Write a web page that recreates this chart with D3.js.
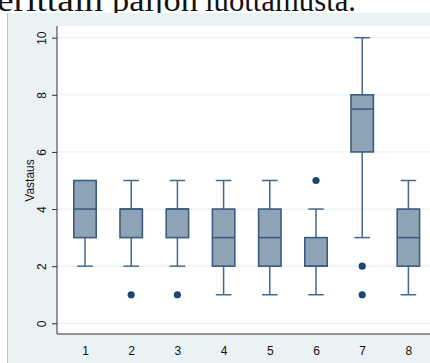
<!DOCTYPE html>
<html>
<head>
<meta charset="utf-8">
<script src="https://cdn.jsdelivr.net/npm/d3@7"></script>
<style>
  html, body { margin: 0; padding: 0; background: #ffffff; }
  svg { display: block; }
</style>
</head>
<body>
<svg id="chart" width="430" height="363"></svg>
<script>
// Box-plot summaries for each question (1–8)
const categories = ["1", "2", "3", "4", "5", "6", "7", "8"];
const lowerWhisker = [2, 2, 2, 1, 1, 1, 3, 1];
const q1 =           [3, 3, 3, 2, 2, 2, 6, 2];
const median =       [4, 4, 4, 3, 3, 2, 7.5, 3];
const q3 =           [5, 4, 4, 4, 4, 3, 8, 4];
const upperWhisker = [5, 5, 5, 5, 5, 4, 10, 5];
const outliers =     [[], [1], [1], [], [], [5], [2, 1], []];
const yTicks = [0, 2, 4, 6, 8, 10];
const yTitle = "Vastaus";
const headingWords = ["erittäin", "paljon", "luottamusta."];

const svg = d3.select("#chart");
const W = 430, H = 363;

// Heading text running off the top of the image
const headX = [-3, 112, 205];
const headLen = [106, 86, 151];
const head = svg.append("text")
  .attr("y", 11)
  .attr("font-family", "'Liberation Serif', 'DejaVu Serif', serif")
  .attr("font-size", 31)
  .attr("fill", "#111");
headingWords.forEach((w, i) => {
  head.append("tspan").attr("x", headX[i]).text(w)
    .attr("textLength", headLen[i]).attr("lengthAdjust", "spacingAndGlyphs");
});

// Graph region background
svg.append("rect").attr("x", 8).attr("y", 13).attr("width", W - 8).attr("height", H - 13)
  .attr("fill", "#eaf2f3");
svg.append("line").attr("x1", 7.5).attr("x2", 7.5).attr("y1", 13).attr("y2", H)
  .attr("stroke", "#b9c2c6").attr("stroke-width", 1);

// Plot region
const plot = { left: 57, right: 430, top: 26, bottom: 334 };
svg.append("rect").attr("x", plot.left).attr("y", plot.top)
  .attr("width", plot.right - plot.left).attr("height", plot.bottom - plot.top)
  .attr("fill", "#ffffff");

const y = d3.scaleLinear().domain([0, 10]).range([323.3, 37.7]);
const x = d3.scalePoint().domain(categories).range([85, 408.4]);

// Gridlines
svg.append("g").selectAll("line").data(yTicks).join("line")
  .attr("x1", plot.left).attr("x2", plot.right)
  .attr("y1", d => y(d)).attr("y2", d => y(d))
  .attr("stroke", "#eaf2f3").attr("stroke-width", 1.2);

// Y axis
const yAxis = svg.append("g").attr("transform", `translate(${plot.left},0)`)
  .call(d3.axisLeft(y).tickValues(yTicks).tickSize(5).tickPadding(0).tickFormat(d3.format("d")));
yAxis.select(".domain").remove();
yAxis.selectAll(".tick line").attr("stroke", "#333");
yAxis.selectAll(".tick text")
  .attr("transform", "rotate(-90)")
  .attr("x", 0).attr("y", -15)
  .attr("dy", "0.35em")
  .attr("text-anchor", "middle")
  .attr("font-family", "'Liberation Sans', Arial, sans-serif")
  .attr("font-size", 12).attr("fill", "#111");

svg.append("text")
  .attr("transform", `translate(34,${(y(0) + y(10)) / 2}) rotate(-90)`)
  .attr("text-anchor", "middle")
  .attr("font-family", "'Liberation Sans', Arial, sans-serif")
  .attr("font-size", 12).attr("fill", "#111")
  .text(yTitle);

// X axis labels
const xAxis = svg.append("g").attr("transform", `translate(0,${plot.bottom})`)
  .call(d3.axisBottom(x).tickSize(0).tickPadding(12));
xAxis.select(".domain").remove();
xAxis.selectAll(".tick text")
  .attr("font-family", "'Liberation Sans', Arial, sans-serif")
  .attr("font-size", 12).attr("fill", "#111");

// Axis lines
svg.append("path")
  .attr("d", `M${plot.left},${plot.top}V${plot.bottom}H${plot.right}`)
  .attr("fill", "none").attr("stroke", "#333").attr("stroke-width", 1);

// Boxes
const boxW = 22.4, capW = 15.6;
const stroke = "#45688b", fill = "#8fa3b6";
const data = categories.map((c, i) => ({
  c, lo: lowerWhisker[i], q1: q1[i], med: median[i], q3: q3[i], hi: upperWhisker[i], out: outliers[i]
}));

const g = svg.append("g").selectAll("g").data(data).join("g")
  .attr("transform", d => `translate(${x(d.c)},0)`);

// whiskers
g.append("line").attr("x1", 0).attr("x2", 0)
  .attr("y1", d => y(d.q3)).attr("y2", d => y(d.hi))
  .attr("stroke", stroke).attr("stroke-width", 1.5);
g.append("line").attr("x1", 0).attr("x2", 0)
  .attr("y1", d => y(d.q1)).attr("y2", d => y(d.lo))
  .attr("stroke", stroke).attr("stroke-width", 1.5);
g.filter(d => d.hi > d.q3).append("line")
  .attr("x1", -capW / 2).attr("x2", capW / 2)
  .attr("y1", d => y(d.hi)).attr("y2", d => y(d.hi))
  .attr("stroke", stroke).attr("stroke-width", 1.5);
g.filter(d => d.lo < d.q1).append("line")
  .attr("x1", -capW / 2).attr("x2", capW / 2)
  .attr("y1", d => y(d.lo)).attr("y2", d => y(d.lo))
  .attr("stroke", stroke).attr("stroke-width", 1.5);

// box
g.append("rect")
  .attr("x", -boxW / 2).attr("width", boxW)
  .attr("y", d => y(d.q3)).attr("height", d => y(d.q1) - y(d.q3))
  .attr("fill", fill).attr("stroke", "#3a5c7e").attr("stroke-width", 1.6);
g.append("line")
  .attr("x1", -boxW / 2).attr("x2", boxW / 2)
  .attr("y1", d => y(d.med)).attr("y2", d => y(d.med))
  .attr("stroke", "#3a5c7e").attr("stroke-width", 1.6);

// outliers
g.selectAll("circle").data(d => d.out).join("circle")
  .attr("cx", 0).attr("cy", v => y(v)).attr("r", 3.6)
  .attr("fill", "#1a4670");
</script>
</body>
</html>
